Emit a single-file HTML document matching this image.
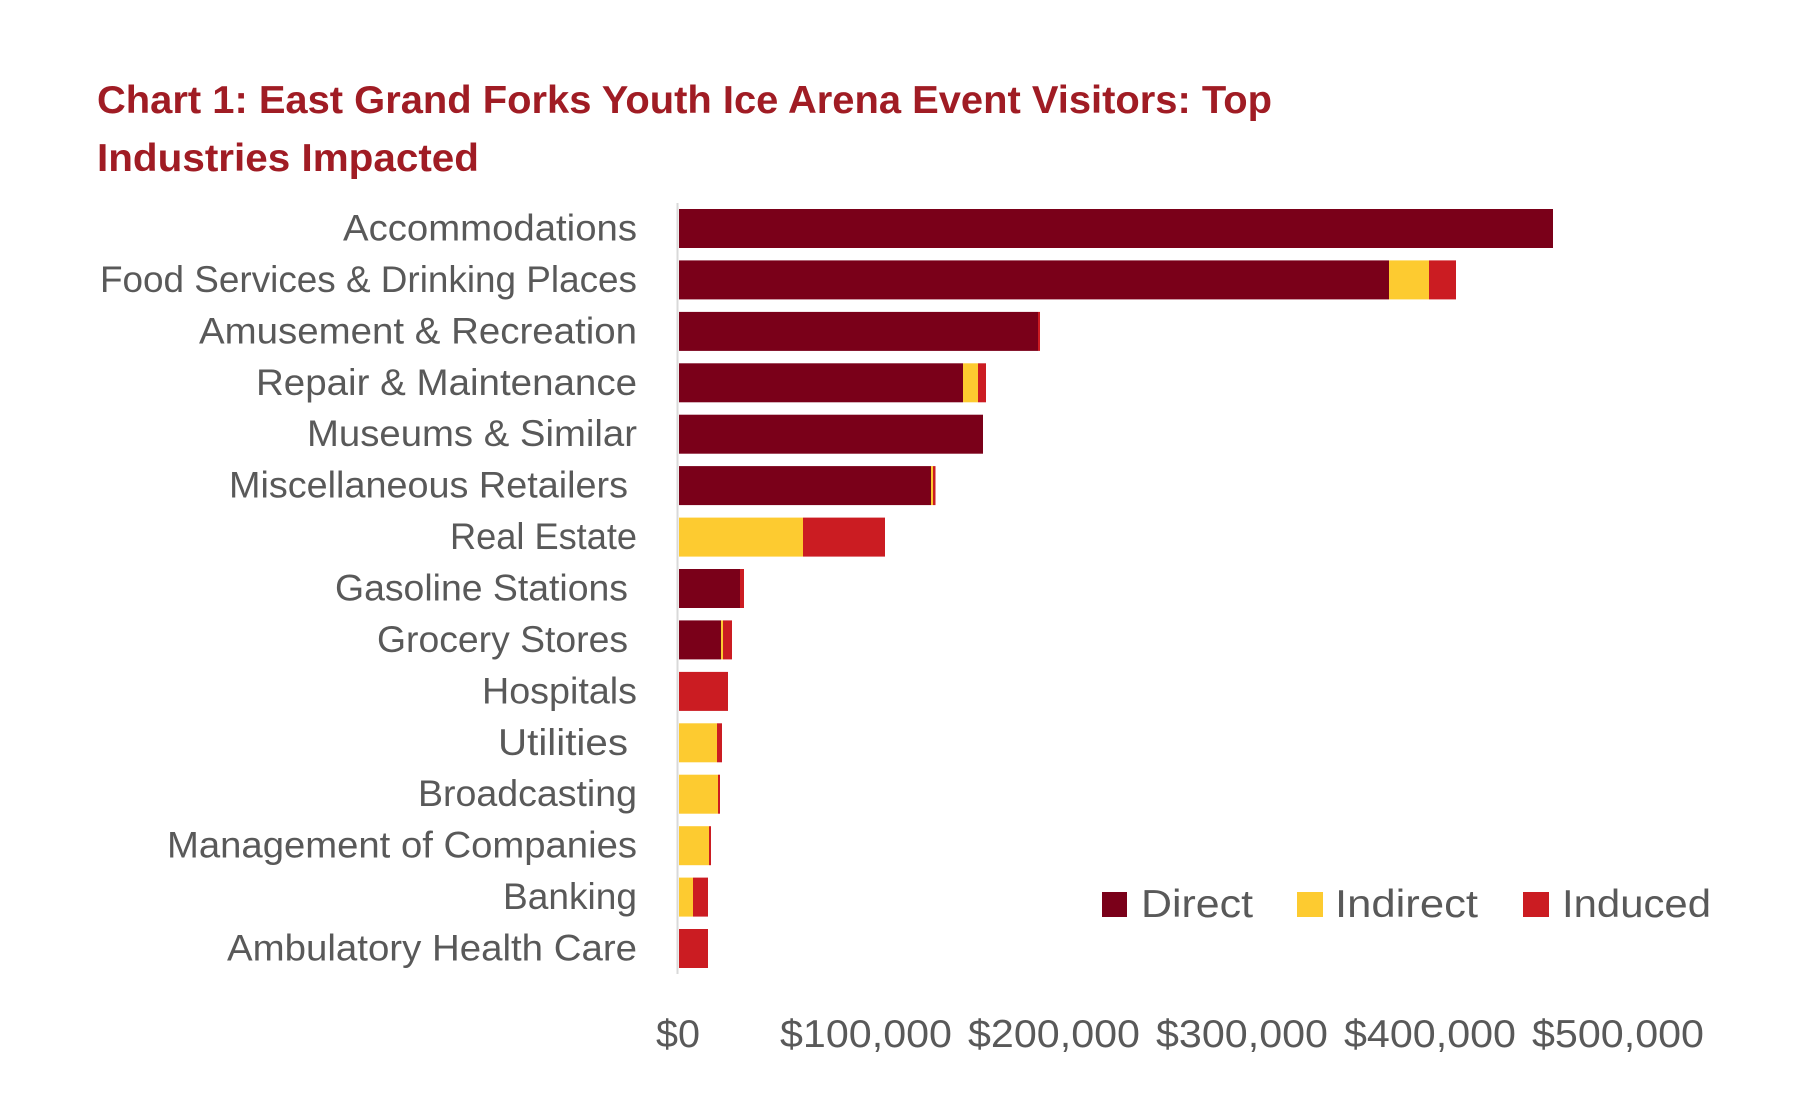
<!DOCTYPE html>
<html>
<head>
<meta charset="utf-8">
<style>
  html, body { margin: 0; padding: 0; background: #ffffff; }
  svg { display: block; }
  text { font-family: "Liberation Sans", "DejaVu Sans", sans-serif; }
</style>
</head>
<body>
<svg width="1810" height="1098" viewBox="0 0 1810 1098" xmlns="http://www.w3.org/2000/svg">
  <rect x="0" y="0" width="1810" height="1098" fill="#ffffff"/>

  <!-- Title -->
  <text x="97" y="113" font-size="39" font-weight="bold" fill="#A01C24" textLength="1175" lengthAdjust="spacingAndGlyphs">Chart 1: East Grand Forks Youth Ice Arena Event Visitors: Top</text>
  <text x="97" y="171" font-size="39" font-weight="bold" fill="#A01C24" textLength="382" lengthAdjust="spacingAndGlyphs">Industries Impacted</text>

  <!-- Axis line -->
  <rect x="676.5" y="203" width="2" height="771" fill="#D9D9D9"/>

  <!-- Category labels -->
  <g font-size="37.5" fill="#595959" text-anchor="end">
    <text x="637" y="240.5" textLength="294" lengthAdjust="spacingAndGlyphs">Accommodations</text>
    <text x="637" y="291.9" textLength="537" lengthAdjust="spacingAndGlyphs">Food Services &amp; Drinking Places</text>
    <text x="637" y="343.4" textLength="438" lengthAdjust="spacingAndGlyphs">Amusement &amp; Recreation</text>
    <text x="637" y="394.8" textLength="381" lengthAdjust="spacingAndGlyphs">Repair &amp; Maintenance</text>
    <text x="637" y="446.2" textLength="330" lengthAdjust="spacingAndGlyphs">Museums &amp; Similar</text>
    <text x="628" y="497.6" textLength="399" lengthAdjust="spacingAndGlyphs">Miscellaneous Retailers</text>
    <text x="637" y="549.1" textLength="187" lengthAdjust="spacingAndGlyphs">Real Estate</text>
    <text x="628" y="600.5" textLength="293" lengthAdjust="spacingAndGlyphs">Gasoline Stations</text>
    <text x="628" y="651.9" textLength="251" lengthAdjust="spacingAndGlyphs">Grocery Stores</text>
    <text x="637" y="703.4" textLength="155" lengthAdjust="spacingAndGlyphs">Hospitals</text>
    <text x="628" y="754.8" textLength="130" lengthAdjust="spacingAndGlyphs">Utilities</text>
    <text x="637" y="806.2" textLength="219" lengthAdjust="spacingAndGlyphs">Broadcasting</text>
    <text x="637" y="857.7" textLength="470" lengthAdjust="spacingAndGlyphs">Management of Companies</text>
    <text x="637" y="909.1" textLength="134" lengthAdjust="spacingAndGlyphs">Banking</text>
    <text x="637" y="960.5" textLength="410" lengthAdjust="spacingAndGlyphs">Ambulatory Health Care</text>
  </g>

  <!-- Bars -->
  <g>
    <!-- Accommodations -->
    <rect x="679" y="209" width="874" height="39" fill="#7A0019"/>
    <!-- Food Services -->
    <rect x="679" y="260.4" width="710" height="39" fill="#7A0019"/>
    <rect x="1389" y="260.4" width="40" height="39" fill="#FDCB30"/>
    <rect x="1429" y="260.4" width="27" height="39" fill="#CB1C22"/>
    <!-- Amusement -->
    <rect x="679" y="311.9" width="359" height="39" fill="#7A0019"/>
    <rect x="1038" y="311.9" width="2" height="39" fill="#CB1C22"/>
    <!-- Repair -->
    <rect x="679" y="363.3" width="284" height="39" fill="#7A0019"/>
    <rect x="963" y="363.3" width="15" height="39" fill="#FDCB30"/>
    <rect x="978" y="363.3" width="8" height="39" fill="#CB1C22"/>
    <!-- Museums -->
    <rect x="679" y="414.7" width="304" height="39" fill="#7A0019"/>
    <!-- Misc Retailers -->
    <rect x="679" y="466.1" width="252" height="39" fill="#7A0019"/>
    <rect x="931" y="466.1" width="2" height="39" fill="#FDCB30"/>
    <rect x="933" y="466.1" width="2.5" height="39" fill="#CB1C22"/>
    <!-- Real Estate -->
    <rect x="679" y="517.6" width="124" height="39" fill="#FDCB30"/>
    <rect x="803" y="517.6" width="82" height="39" fill="#CB1C22"/>
    <!-- Gasoline -->
    <rect x="679" y="569" width="61" height="39" fill="#7A0019"/>
    <rect x="740" y="569" width="4" height="39" fill="#CB1C22"/>
    <!-- Grocery -->
    <rect x="679" y="620.4" width="42" height="39" fill="#7A0019"/>
    <rect x="721" y="620.4" width="2" height="39" fill="#FDCB30"/>
    <rect x="723" y="620.4" width="9" height="39" fill="#CB1C22"/>
    <!-- Hospitals -->
    <rect x="679" y="671.9" width="49" height="39" fill="#CB1C22"/>
    <!-- Utilities -->
    <rect x="679" y="723.3" width="38" height="39" fill="#FDCB30"/>
    <rect x="717" y="723.3" width="5" height="39" fill="#CB1C22"/>
    <!-- Broadcasting -->
    <rect x="679" y="774.7" width="39" height="39" fill="#FDCB30"/>
    <rect x="718" y="774.7" width="2" height="39" fill="#CB1C22"/>
    <!-- Management -->
    <rect x="679" y="826.2" width="30" height="39" fill="#FDCB30"/>
    <rect x="709" y="826.2" width="2" height="39" fill="#CB1C22"/>
    <!-- Banking -->
    <rect x="679" y="877.6" width="14" height="39" fill="#FDCB30"/>
    <rect x="693" y="877.6" width="15" height="39" fill="#CB1C22"/>
    <!-- Ambulatory -->
    <rect x="679" y="929" width="29" height="39" fill="#CB1C22"/>
  </g>

  <!-- Legend -->
  <rect x="1102" y="892" width="25" height="25" fill="#7A0019"/>
  <text x="1141" y="917" font-size="39" fill="#595959" textLength="112" lengthAdjust="spacingAndGlyphs">Direct</text>
  <rect x="1297" y="892" width="26" height="25" fill="#FDCB30"/>
  <text x="1335" y="917" font-size="39" fill="#595959" textLength="143" lengthAdjust="spacingAndGlyphs">Indirect</text>
  <rect x="1523" y="892" width="26" height="25" fill="#CB1C22"/>
  <text x="1562" y="917" font-size="39" fill="#595959" textLength="149" lengthAdjust="spacingAndGlyphs">Induced</text>

  <!-- X axis labels -->
  <g font-size="39" fill="#595959" text-anchor="middle">
    <text x="678" y="1047" textLength="44" lengthAdjust="spacingAndGlyphs">$0</text>
    <text x="866" y="1047" textLength="172" lengthAdjust="spacingAndGlyphs">$100,000</text>
    <text x="1054" y="1047" textLength="172" lengthAdjust="spacingAndGlyphs">$200,000</text>
    <text x="1242" y="1047" textLength="172" lengthAdjust="spacingAndGlyphs">$300,000</text>
    <text x="1430" y="1047" textLength="172" lengthAdjust="spacingAndGlyphs">$400,000</text>
    <text x="1618" y="1047" textLength="172" lengthAdjust="spacingAndGlyphs">$500,000</text>
  </g>
</svg>
</body>
</html>
